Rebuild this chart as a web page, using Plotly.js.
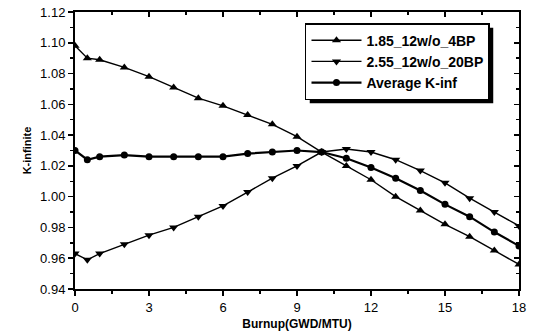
<!DOCTYPE html>
<html><head><meta charset="utf-8">
<script src="https://cdn.plot.ly/plotly-3.0.1.min.js"></script>
<style>html,body{margin:0;padding:0;background:#fff;}#chart{width:539px;height:335px;}</style>
</head><body><div id="chart"></div>
<script>
const burnup = [0, 0.5, 1, 2, 3, 4, 5, 6, 7, 8, 9, 10, 11, 12, 13, 14, 15, 16, 17, 18];
const k4BP = [1.098, 1.090, 1.089, 1.084, 1.078, 1.071, 1.064, 1.059, 1.053, 1.047, 1.039, 1.029, 1.020, 1.011, 1.000, 0.991, 0.982, 0.974, 0.965, 0.956];
const k20BP = [0.963, 0.959, 0.963, 0.969, 0.975, 0.980, 0.987, 0.994, 1.003, 1.012, 1.020, 1.029, 1.031, 1.029, 1.024, 1.017, 1.009, 0.999, 0.990, 0.981];
const kAvg = [1.030, 1.024, 1.026, 1.027, 1.026, 1.026, 1.026, 1.026, 1.028, 1.029, 1.030, 1.029, 1.025, 1.019, 1.012, 1.004, 0.995, 0.987, 0.977, 0.968];
const names = ['1.85_12w/o_4BP', '2.55_12w/o_20BP', 'Average K-inf'];
const xTicks = [0, 3, 6, 9, 12, 15, 18];
const yTicks = [0.94, 0.96, 0.98, 1.00, 1.02, 1.04, 1.06, 1.08, 1.10, 1.12];

const traces = [
  {x: burnup, y: k4BP, name: names[0], mode: 'lines+markers',
   line: {color: '#000', width: 1.4}, marker: {symbol: 'triangle-up', size: 8, color: '#000'}},
  {x: burnup, y: k20BP, name: names[1], mode: 'lines+markers',
   line: {color: '#000', width: 1.4}, marker: {symbol: 'triangle-down', size: 8, color: '#000'}},
  {x: burnup, y: kAvg, name: names[2], mode: 'lines+markers',
   line: {color: '#000', width: 2.2}, marker: {symbol: 'circle', size: 7, color: '#000'}},
  {x: [0, 18], y: [0.94, 0.94], xaxis: 'x2', yaxis: 'y2', mode: 'none', showlegend: false, hoverinfo: 'skip'}
];

const tickFont = {family: 'Liberation Sans, Arial, sans-serif', size: 13, color: '#000'};
const layout = {
  width: 539, height: 335,
  margin: {l: 75, r: 20, t: 12, b: 46},
  paper_bgcolor: '#fff', plot_bgcolor: '#fff',
  showlegend: true,
  xaxis: {range: [0, 18], tickvals: xTicks, ticktext: xTicks.map(String),
    ticks: 'outside', ticklen: 5, tickwidth: 1.5, tickcolor: '#000',
    minor: {dtick: 1.5, ticks: 'outside', ticklen: 3, tickcolor: '#000'},
    showline: true, linecolor: '#000', linewidth: 2, mirror: true,
    showgrid: false, zeroline: false, tickfont: tickFont,
    title: {text: '<b>Burnup(GWD/MTU)</b>', font: {family: 'Liberation Sans, Arial, sans-serif', size: 12, color: '#000'}, standoff: 6}},
  yaxis: {range: [0.94, 1.12], tickvals: yTicks, ticktext: yTicks.map(v => v.toFixed(2)),
    ticks: 'outside', ticklen: 5, tickwidth: 1.5, tickcolor: '#000',
    minor: {dtick: 0.01, ticks: 'outside', ticklen: 3, tickcolor: '#000'},
    showline: true, linecolor: '#000', linewidth: 2, mirror: true,
    showgrid: false, zeroline: false, tickfont: tickFont,
    title: {text: '<b>K-infinite</b>', font: {family: 'Liberation Sans, Arial, sans-serif', size: 11, color: '#000'}, standoff: 6}},
  xaxis2: {range: [0, 18], overlaying: 'x', side: 'top', tickvals: xTicks, showticklabels: false,
    ticks: 'inside', ticklen: 5, tickwidth: 1.5, tickcolor: '#000',
    minor: {dtick: 1.5, ticks: 'inside', ticklen: 3, tickcolor: '#000'},
    showgrid: false, zeroline: false, showline: false},
  yaxis2: {range: [0.94, 1.12], overlaying: 'y', side: 'right', tickvals: yTicks, showticklabels: false,
    ticks: 'inside', ticklen: 5, tickwidth: 1.5, tickcolor: '#000',
    minor: {dtick: 0.01, ticks: 'inside', ticklen: 3, tickcolor: '#000'},
    showgrid: false, zeroline: false, showline: false},
  legend: {x: 0.518, y: 0.96, xanchor: 'left', yanchor: 'top',
    bgcolor: '#fff', bordercolor: '#000', borderwidth: 1.5,
    font: {family: 'Liberation Sans, Arial, sans-serif', size: 14, color: '#000', weight: 'bold'},
    tracegroupgap: 0, itemwidth: 50}
};
Plotly.newPlot('chart', traces, layout, {displayModeBar: false, staticPlot: true}).then(gd => {
  const bg = gd.querySelector('.legend .bg');
  if (!bg) return;
  const r = bg.getBoundingClientRect();
  const c = gd.getBoundingClientRect();
  const s = gd._fullLayout._size;
  const off = 4;
  const px = v => (v - c.left - s.l) / s.w;
  const py = v => 1 - (v - c.top - s.t) / s.h;
  Plotly.relayout(gd, {shapes: [{type: 'rect', xref: 'paper', yref: 'paper',
    x0: px(r.left + off), x1: px(r.right + off), y0: py(r.bottom + off), y1: py(r.top + off),
    fillcolor: '#000', line: {width: 0}, layer: 'below'}]});
});
</script></body></html>
